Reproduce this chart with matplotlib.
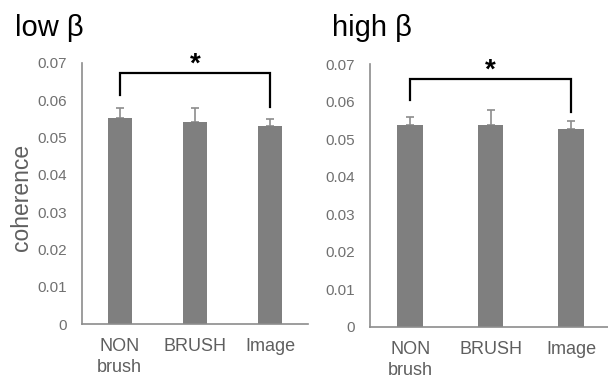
import matplotlib
matplotlib.use("Agg")
import matplotlib.pyplot as plt

plt.rcParams['font.family'] = ['Liberation Sans', 'DejaVu Sans']

categories = ['NON\nbrush', 'BRUSH', 'Image']
low_mean = [0.0553, 0.0543, 0.0531]
low_err = [0.0025, 0.0035, 0.0019]
high_mean = [0.0537, 0.0537, 0.0526]
high_err = [0.0021, 0.0040, 0.0022]
yticks = [0, 0.01, 0.02, 0.03, 0.04, 0.05, 0.06, 0.07]
ytick_labels = ['0', '0.01', '0.02', '0.03', '0.04', '0.05', '0.06', '0.07']

# bracket heights (top, left foot, right foot)
low_bracket = [0.0672, 0.0614, 0.0581]
high_bracket = [0.0660, 0.0604, 0.0571]

GRAY_TXT = '#5f5f5f'
TICK_TXT = '#707070'
BAR = '#7f7f7f'


def panel(ax, means, errs, bracket, xmax):
    x = range(len(categories))
    ax.bar(x, means, width=0.32, color=BAR, zorder=2)
    ax.errorbar(x, means, yerr=[[0] * len(errs), errs], fmt='none',
                ecolor='#8c8c8c', elinewidth=1.2, capsize=3, capthick=1.2, zorder=1)
    ax.set_xlim(-0.5, xmax)
    ax.set_ylim(0, 0.07)
    ax.set_yticks(yticks)
    ax.set_yticklabels(ytick_labels)
    ax.set_xticks(list(x))
    ax.set_xticklabels(categories, linespacing=1.3)
    ax.tick_params(axis='y', length=0, pad=11, labelsize=11, labelcolor=TICK_TXT)
    ax.tick_params(axis='x', length=0, pad=10, labelsize=13, labelcolor=GRAY_TXT)
    for s in ['top', 'right']:
        ax.spines[s].set_visible(False)
    for s in ['left', 'bottom']:
        ax.spines[s].set_color('#8c8c8c')
        ax.spines[s].set_linewidth(1.2)
    top, lf, rf = bracket
    ax.plot([0, 0, 2, 2], [lf, top, top, rf], color='black', lw=1.6,
            clip_on=False, solid_joinstyle='miter')
    ax.text(1, top + 0.0004, '*', ha='center', va='baseline', fontsize=20,
            fontweight='bold', clip_on=False)


fig = plt.figure(figsize=(6.08, 3.78), dpi=100)
ax1 = fig.add_axes([82 / 608, 1 - 324 / 378, 226 / 608, 261 / 378])
ax2 = fig.add_axes([370 / 608, 1 - 327 / 378, 238 / 608, 263 / 378])

panel(ax1, low_mean, low_err, low_bracket, 2.5)
panel(ax2, high_mean, high_err, high_bracket, 2.46)

fig.text(15 / 608, 1 - 36 / 378, 'low β', fontsize=21, ha='left', va='baseline')
fig.text(332 / 608, 1 - 36 / 378, 'high β', fontsize=21, ha='left', va='baseline')
fig.text(22 / 608, 1 - 197 / 378, 'coherence', fontsize=16.5, rotation=90,
         ha='center', va='center', color=GRAY_TXT)

fig.savefig('out.png', dpi=100)
